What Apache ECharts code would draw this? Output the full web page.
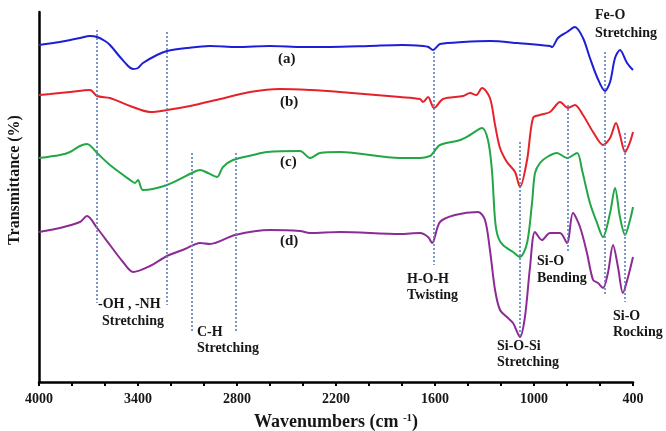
<!DOCTYPE html>
<html>
<head>
<meta charset="utf-8">
<script src="https://cdn.jsdelivr.net/npm/echarts@6/dist/echarts.min.js"></script>
<style>
  html, body { margin: 0; padding: 0; background: #fff; }
  #chart { width: 666px; height: 431px; }
</style>
</head>
<body>
<div id="chart"></div>
<script>
// FTIR spectra, [wavenumber (cm-1), transmittance (offset, a.u.)]
const specA = [[4000,337],[3873,340],[3752,344],[3691,346],[3648,345],[3600,341],[3570,337],[3509,325],
  [3460,316],[3430,313],[3400,314],[3370,319],[3285,327],[3224,331],[3103,334],[2964,336],[2800,335],
  [2600,336],[2400,335],[2236,335],[2000,336],[1800,337],[1673,336],[1640,335],[1612,332],[1590,335],
  [1570,338],[1430,340],[1267,341],[1100,339],[903,336],[891,335],[855,344],[800,350],[752,355],
  [703,344],[661,324],[618,305],[570,291],[539,300],[509,324],[479,332],[436,319],[400,312]];
const specB = [[4000,287],[3933,288],[3812,290],[3691,292],[3648,286],[3570,284],[3448,276],[3327,270],
  [3224,272],[3085,276],[2903,283],[2721,290],[2539,293],[2358,292],[2176,290],[1812,285],[1691,283],
  [1673,280],[1642,285],[1606,274],[1551,283],[1430,286],[1388,289],[1350,287],[1315,294],[1267,284],
  [1236,257],[1206,234],[1164,220],[1115,210],[1085,195],[1042,222],[1006,264],[964,267],[903,270],
  [842,280],[794,274],[752,277],[703,267],[642,250],[582,237],[539,244],[503,259],[479,247],[448,230],
  [418,240],[400,250]];
const specC = [[4000,224],[3873,227],[3812,230],[3752,236],[3709,238],[3648,229],[3570,217],[3448,202],
  [3418,199],[3400,202],[3370,192],[3224,197],[3073,209],[3024,212],[2976,209],[2921,205],[2885,215],
  [2824,222],[2703,227],[2618,230],[2418,231],[2358,224],[2297,229],[2176,230],[1812,224],[1691,224],
  [1630,226],[1612,229],[1570,237],[1448,242],[1388,247],[1315,254],[1279,242],[1255,212],[1236,162],
  [1218,145],[1188,137],[1127,130],[1085,125],[1042,139],[1012,179],[994,209],[964,219],[921,225],
  [861,229],[800,224],[739,229],[709,212],[661,179],[618,159],[582,145],[539,169],[509,194],[479,165],
  [448,147],[418,162],[400,175]];
const specD = [[4000,150],[3873,154],[3752,160],[3709,166],[3648,154],[3570,137],[3491,120],[3430,110],
  [3327,116],[3224,126],[3115,133],[3024,139],[2964,138],[2812,147],[2600,152],[2418,151],[2358,149],
  [2176,150],[1812,148],[1691,149],[1642,145],[1618,139],[1570,160],[1479,167],[1339,170],[1297,162],
  [1267,132],[1236,92],[1206,72],[1164,65],[1127,59],[1085,45],[1055,65],[1024,115],[994,150],[952,142],
  [903,149],[842,149],[800,139],[764,169],[721,155],[679,129],[642,102],[612,99],[582,94],[552,109],
  [521,137],[491,115],[461,89],[430,105],[400,125]];

// band assignment guide lines
const bandWave = [3650, 3225, 3075, 2810, 1610, 1085, 795, 570, 450];
const bandTop = [352, 350, 229, 229, 330, 240, 277, 330, 249];
const bandBottom = [79, 77, 49, 49, 117, 44, 130, 87, 80];

const tickLabels = [4000, 3400, 2800, 2200, 1600, 1000, 400];
const seriesNames = ['(a)', '(b)', '(c)', '(d)'];
const seriesColors = ['#1e1ed6', '#e5222a', '#22a646', '#8d2b96'];

const chart = echarts.init(document.getElementById('chart'));
const serif = '"Liberation Serif", "Times New Roman", serif';
const txtColor = '#161616';

function note(text, x, y, size) {
  return {
    type: 'text', left: x, top: y, silent: true,
    style: { text: text, font: 'bold ' + (size || 14) + 'px ' + serif, fill: txtColor }
  };
}

const option = {
  backgroundColor: '#fff',
  animation: false,
  grid: { left: 39, right: 33, top: 12, bottom: 49, containLabel: false, outerBoundsMode: 'none' },
  xAxis: {
    type: 'value', inverse: true, min: 400, max: 4000, interval: 200,
    name: '{t|Wavenumbers (cm }{s|-1}{t|)}',
    nameLocation: 'middle', nameGap: 31,
    nameTextStyle: {
      rich: {
        t: { fontFamily: serif, fontWeight: 'bold', fontSize: 18, color: txtColor },
        s: { fontFamily: serif, fontWeight: 'bold', fontSize: 11, color: txtColor, verticalAlign: 'top', padding: [0, 0, 8, 0] }
      }
    },
    axisLine: { lineStyle: { color: '#000', width: 2.5 } },
    axisTick: { inside: false, length: 4, lineStyle: { color: '#000', width: 2 } },
    axisLabel: {
      fontFamily: serif, fontWeight: 'bold', fontSize: 14, color: txtColor, margin: 10,
      formatter: v => tickLabels.indexOf(v) >= 0 ? String(v) : ''
    },
    splitLine: { show: false }
  },
  yAxis: {
    type: 'value', min: 0, max: 370,
    name: 'Transmittance (%)', nameLocation: 'middle', nameGap: 16,
    nameTextStyle: { fontFamily: serif, fontWeight: 'bold', fontSize: 16, color: txtColor, padding: [0, 0, 0, 34] },
    axisLine: { show: true, lineStyle: { color: '#000', width: 2.5 } },
    axisTick: { show: false },
    axisLabel: { show: false },
    splitLine: { show: false }
  },
  series: [specA, specB, specC, specD].map((d, i) => ({
    name: seriesNames[i], type: 'line', data: d, symbol: 'none', smooth: 0.3,
    lineStyle: { color: seriesColors[i], width: 2 }, z: 3
  })).concat([{
    type: 'line', data: [], silent: true, z: 2,
    markLine: {
      symbol: 'none', silent: true, label: { show: false },
      lineStyle: { color: '#5a7fbf', width: 1.6, type: [2, 2] },
      data: bandWave.map((w, i) => [{ coord: [w, bandTop[i]] }, { coord: [w, bandBottom[i]] }])
    }
  }]),
  graphic: [
    note('(a)', 278, 52, 15),
    note('(b)', 280, 95, 15),
    note('(c)', 280, 155, 15),
    note('(d)', 280, 234, 15),
    note('-OH , -NH', 98, 297),
    note('Stretching', 102, 314),
    note('C-H', 197, 325),
    note('Stretching', 197, 341),
    note('H-O-H', 407, 272),
    note('Twisting', 407, 288),
    note('Si-O-Si', 497, 339),
    note('Stretching', 497, 355),
    note('Si-O', 537, 254),
    note('Bending', 537, 271),
    note('Si-O', 613, 309),
    note('Rocking', 613, 325),
    note('Fe-O', 595, 8),
    note('Stretching', 595, 26)
  ]
};

chart.setOption(option);
</script>
</body>
</html>
